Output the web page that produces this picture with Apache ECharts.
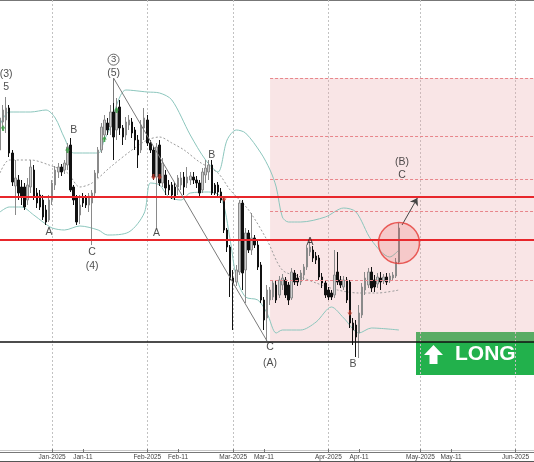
<!DOCTYPE html>
<html><head><meta charset="utf-8">
<script src="https://cdn.jsdelivr.net/npm/echarts@6/dist/echarts.min.js"></script>
<style>html,body{margin:0;padding:0;background:#fff}#c{width:534px;height:462px}</style>
</head><body><div id="c"></div>
<script>
// ---- data ----
const FIRST_DAY = -17, LAST_DAY = 157; // days relative to 2025-01-01
// daily candles [open, close, low, high], first one at FIRST_DAY
const candles = [
[101250,105250,100625,105875],[104750,106250,103750,106875],[105000,106500,103375,107875],[106500,100875,100375,106875],
[100875,97250,96750,101250],[96750,97750,93125,100000],[97500,95875,95000,98125],[96625,95375,94375,97500],
[96625,94125,93750,97125],[95000,96875,94375,97750],[96625,99125,95875,100000],[98750,95375,95000,99375],
[95875,94625,94000,96500],[95625,94125,93750,96250],[95000,92875,92500,95625],[93750,92250,91875,94375],
[92500,95000,92250,95625],[95000,97125,94375,97500],[96875,98750,96250,99250],[98500,99125,97750,99625],
[99125,98500,98000,99500],[98750,99625,98250,100000],[99375,101625,98750,102125],[101875,96250,96000,102750],
[96625,95000,94375,96875],[95250,92250,91875,95625],[93125,94375,92000,95625],[95375,94625,94125,95875],
[95250,94375,94000,95625],[94375,95500,93500,95875],[94625,95875,89375,96250],[95875,98375,95500,98750],
[98375,101250,97750,101625],[101250,104125,100875,104625],[103125,105000,102500,105625],[104625,103750,103125,105250],
[104125,106000,103125,106875],[106000,102875,100000,107125],[103750,106250,102500,107750],[106625,104000,103125,107500],
[104000,102875,101875,104375],[103125,104750,102500,105375],[104375,105000,103750,105625],[104750,103375,102750,105250],
[103750,102500,101250,104125],[102500,100625,99000,103125],[101250,104375,100875,105000],[104000,105250,102500,106500],
[105000,102125,101750,105625],[102125,101250,100875,102500],[101250,97875,97500,101625],[97875,101625,91500,102125],
[101875,97125,96750,102500],[97125,99625,96625,100250],[98125,96500,95625,98750],[96875,96250,95625,97500],
[96875,95625,95125,97250],[96625,95375,95000,97125],[96625,97750,95625,98125],[96875,97750,96250,98500],
[97875,96625,95625,98500],[97125,97875,96500,99125],[97500,98000,96875,98500],[97875,97500,97000,98500],
[97500,97125,96500,98000],[97125,95875,95500,97500],[96250,98500,95875,99000],[98125,99000,97125,100000],
[98500,99375,97500,100000],[99375,95875,95625,100000],[96875,95875,95625,97125],[96875,96000,95375,97250],
[96000,95000,94625,96500],[95000,91250,90875,95375],[91250,89125,88500,91500],[89125,85000,82875,89375],
[85250,84625,78750,86250],[84750,86250,84250,86875],[86000,94625,85625,95000],[94625,85875,83750,95000],
[86250,90875,82125,91500],[90875,88750,88375,91250],[88750,90250,88125,93375],[90250,89375,89000,90625],
[89375,86625,86250,90000],[86875,82500,82125,87250],[82500,80000,78750,82875],[80250,83750,77375,84375],
[82500,83750,81875,84125],[82875,84625,82500,85000],[84375,82500,82125,85000],[83125,85000,82750,85500],
[84375,85250,83750,85750],[85000,83125,82750,85375],[84375,82500,81875,84750],[82750,86000,82500,86500],
[85875,84750,84375,86250],[85250,84750,84250,85750],[84750,85875,84375,86250],[85625,86625,85000,87000],
[86625,89000,86250,89375],[88500,89125,88000,90000],[88750,87750,87250,89250],[88000,87500,87000,88500],
[87750,85375,85000,88125],[85375,84625,84000,85875],[84625,83125,82750,85000],[83750,82875,82500,84125],
[83375,82875,82500,83750],[83125,85625,82750,88750],[86000,84750,84375,88500],[85000,84375,84000,85500],
[84125,85000,83750,85500],[85000,82500,82125,85375],[84750,79625,79000,85000],[79625,78750,76875,80250],
[79375,77875,75375,80000],[78375,80875,75250,81875],[80625,84125,80250,84625],[83750,85250,83125,86000],
[84375,86000,84000,86500],[86000,84000,83500,86625],[85000,84125,83500,85625],[84500,85375,84000,85875],
[85250,84750,83750,86000],[84875,85375,84500,85750],[85375,84750,84375,85875],[84875,85500,84625,85875],
[85250,85625,85000,86000],[85500,87250,85250,87750],[87250,91500,87000,92125]
];
// Bollinger bands (day, value)
const upperDays = [-17,-14,-7,-2,1,4,7,15,17,19,21,24,31,35,39,45,50,54,57,60,63,68,71,73,75,77,81,89,95,99,104,110,113];
const upperVals = [104375,106000,106000,106250,105250,102750,100875,100875,102500,104125,106875,108750,108500,108375,107500,103125,100000,98500,102500,103750,103375,100875,98750,96625,92875,92250,92250,92875,94000,93500,90000,87875,88750];
const midDays = [-17,-14,-7,-1,5,9,13,19,26,31,35,39,43,48,54,58,64,70,75,81,86,93,100,106,113];
const midVals = [98375,100000,100000,99375,98375,96625,97125,99125,101250,102500,102875,102125,101250,99750,98375,96250,93750,90000,86250,85375,84625,83750,83375,83375,83750];
const lowerDays = [-17,-14,-10,-6,-3,0,4,9,15,18,25,30,32,35,38,42,45,51,55,58,60,63,67,70,73,75,81,86,91,95,100,104,113];
const lowerVals = [93500,94125,94125,93125,92250,91500,91250,91750,91250,90625,91000,93375,97125,96875,95375,95000,95875,96000,95375,90000,85375,82875,82500,80875,78375,78750,78750,79750,81625,80250,78375,79000,78750];
// signal arrows
const upMarkDays = [-16,5,17,21], upMarkVals = [104000,101250,102625,106250];
const downMarkDays = [33,35,56,97], downMarkVals = [97875,97875,95125,80875];
// wave labels
const waveDays = [-15,-1,7,13,20,34,52,71,84,98,114];
const wavePrices = [109950,91000,103750,87625,111700,90875,100625,75625,89750,74500,98950];
const waveTexts = ['(3)\n5','A','B','C\n(4)','{c|3}\n(5)','A','B','C\n(A)','A','B','(B)\nC'];
// levels
const resistanceLevels = [95375, 90000];
const supportLevel = 77250;
const zoneStartDay = 71, zoneTop = 110250, zoneBottom = 77250;
const zoneLevels = [110250, 103000, 97625, 93625, 85000];
const trendStart = [20, 110250], trendEnd = [70, 77375];
const targetArrowStart = [114, 91875], targetArrowEnd = [119, 95250];
const circleDay = 113, circleVal = 89625;
// axis labels
const tickDates = ['2025-01-01','2025-01-11','2025-02-01','2025-02-11','2025-03-01','2025-03-11','2025-04-01','2025-04-11','2025-05-01','2025-05-11','2025-06-01'];
const tickTexts = ['Jan-2025','Jan-11','Feb-2025','Feb-11','Mar-2025','Mar-11','Apr-2025','Apr-11','May-2025','May-11','Jun-2025'];
const gridDates = ['2025-01-01','2025-02-01','2025-03-01','2025-04-01','2025-05-01','2025-06-01'];

// ---- build ----
function dayToDate(d){ return new Date(Date.UTC(2025,0,1) + d*86400000).toISOString().slice(0,10); }
const categories = [];
for (let d = FIRST_DAY; d <= LAST_DAY; d++) categories.push(dayToDate(d));
const idx = d => d - FIRST_DAY;
const tickMap = {}; tickDates.forEach((t,k)=>tickMap[t]=tickTexts[k]);
const gridSet = new Set(gridDates);
const FONT = 'Liberation Sans, Arial, sans-serif';
const pairs = (days, vals) => days.map((d,k)=>[idx(d), vals[k]]);
const lastIdx = categories.length - 1;

const chart = echarts.init(document.getElementById('c'), null, {renderer:'canvas'});
chart.setOption({
  animation:false,
  grid:{left:0,right:0,top:0,bottom:10,containLabel:false},
  xAxis:{
    type:'category', data:categories, boundaryGap:false,
    axisLine:{lineStyle:{color:'#777',width:1}},
    axisTick:{inside:true,length:3,interval:(i,v)=>v in tickMap,lineStyle:{color:'#777'}},
    axisLabel:{interval:(i,v)=>v in tickMap,formatter:v=>tickMap[v]||'',fontSize:6.5,color:'#444',margin:2,fontFamily:FONT},
    splitLine:{show:true,interval:(i,v)=>gridSet.has(v),lineStyle:{color:'#c2c2c2',width:1,type:[2,2]}}
  },
  yAxis:{type:'value',min:63500,max:120000,show:false,splitLine:{show:false}},
  series:[
    {type:'line',data:[],z:1,silent:true,
      markArea:{silent:true,itemStyle:{color:'rgba(232,160,165,0.28)'},
        data:[[{coord:[idx(zoneStartDay),zoneTop]},{coord:[lastIdx,zoneBottom]}]]},
      markLine:{silent:true,symbol:'none',label:{show:false},
        lineStyle:{color:'#e8868b',width:1,type:[3,2]},
        data:zoneLevels.map(v=>[{coord:[idx(zoneStartDay),v]},{coord:[lastIdx,v]}])}
    },
    {type:'line',name:'upper',data:pairs(upperDays,upperVals),z:2,showSymbol:false,smooth:0.3,silent:true,
      lineStyle:{color:'#8cc6bd',width:1}},
    {type:'line',name:'mid',data:pairs(midDays,midVals),z:2,showSymbol:false,smooth:0.3,silent:true,
      lineStyle:{color:'#9a9a9a',width:1,type:[2,2]}},
    {type:'line',name:'lower',data:pairs(lowerDays,lowerVals),z:2,showSymbol:false,smooth:0.3,silent:true,
      lineStyle:{color:'#8cc6bd',width:1}},
    {type:'candlestick',data:candles,z:3,barWidth:2,silent:true,
      itemStyle:{color:'#cfcfcf',color0:'#111',borderColor:'#8a8a8a',borderColor0:'#111',borderWidth:1}},
    {type:'line',data:[],z:4,silent:true,
      markLine:{silent:true,symbol:'none',label:{show:false},
        data:[
          ...resistanceLevels.map(v=>({yAxis:v,lineStyle:{color:'#e8262b',width:2,type:'solid'}})),
          [{coord:[0,supportLevel],lineStyle:{color:'#111',width:1.5,type:'solid'}},{coord:[lastIdx,supportLevel]}],
          [{coord:[idx(trendStart[0]),trendStart[1]],lineStyle:{color:'#7a7a7a',width:1,type:'solid'}},{coord:[idx(trendEnd[0]),trendEnd[1]]}],
          [{coord:[idx(trendStart[0]),trendStart[1]],lineStyle:{color:'#7a7a7a',width:1,type:'solid'}},{coord:[idx(trendStart[0]),107125]}]
        ]}
    },
    {type:'line',data:[],z:4,silent:true,
      markLine:{silent:true,symbol:['none','arrow'],symbolSize:7,label:{show:false},
        lineStyle:{color:'#444',width:1,type:'solid'},
        data:[[{coord:[idx(targetArrowStart[0]),targetArrowStart[1]]},{coord:[idx(targetArrowEnd[0]),targetArrowEnd[1]]}]]}
    },
    {type:'scatter',data:pairs(upMarkDays,upMarkVals),z:5,silent:true,
      symbol:'path://M5 0 L10 6 L7 6 L7 10 L3 10 L3 6 L0 6 Z',symbolSize:[5,6],itemStyle:{color:'#2e9a3a'}},
    {type:'scatter',data:pairs(downMarkDays,downMarkVals),z:5,silent:true,symbolRotate:180,
      symbol:'path://M5 0 L10 6 L7 6 L7 10 L3 10 L3 6 L0 6 Z',symbolSize:[5,6],itemStyle:{color:'#c0392b'}},
    {type:'scatter',z:7,silent:true,symbol:'circle',symbolSize:41,
      data:[[idx(circleDay),circleVal]],
      itemStyle:{color:'rgba(230,70,70,0.22)',borderColor:'#e53935',borderWidth:1.5}},
    {type:'scatter',z:6,silent:true,symbolSize:0,
      data:waveDays.map((d,k)=>({value:[idx(d),wavePrices[k]],
        label:{formatter:waveTexts[k],lineHeight:waveTexts[k]==='C\n(A)'?16:13.5}})),
      label:{show:true,position:'inside',color:'#222',fontSize:10.5,fontFamily:FONT,align:'center',verticalAlign:'middle',
        rich:{c:{width:11,height:11,borderRadius:6,borderColor:'#444',borderWidth:1,align:'center',verticalAlign:'middle',fontSize:9.5,color:'#222',lineHeight:13.5,fontFamily:FONT}}}
    }
  ],
  graphic:[
    {type:'line',shape:{x1:0,y1:0.5,x2:534,y2:0.5},style:{stroke:'#777',lineWidth:1},silent:true},
    {type:'line',shape:{x1:0,y1:450.5,x2:534,y2:450.5},style:{stroke:'#c8c8c8',lineWidth:1},silent:true},
    {type:'line',shape:{x1:0,y1:461.5,x2:534,y2:461.5},style:{stroke:'#555',lineWidth:1},silent:true},
    {type:'group',z:100,children:[
      {type:'rect',shape:{x:416,y:332,width:118,height:43},style:{fill:'#22b14c'}},
      {type:'polygon',shape:{points:[[433.5,345],[443,355],[437.5,355],[437.5,364],[429.5,364],[429.5,355],[424,355]]},style:{fill:'#fff'}},
      {type:'text',x:455,y:354,style:{text:'LONG',fill:'#fff',font:'bold 21px '+FONT,textVerticalAlign:'middle'}}
    ]}
  ]
});
</script></body></html>
